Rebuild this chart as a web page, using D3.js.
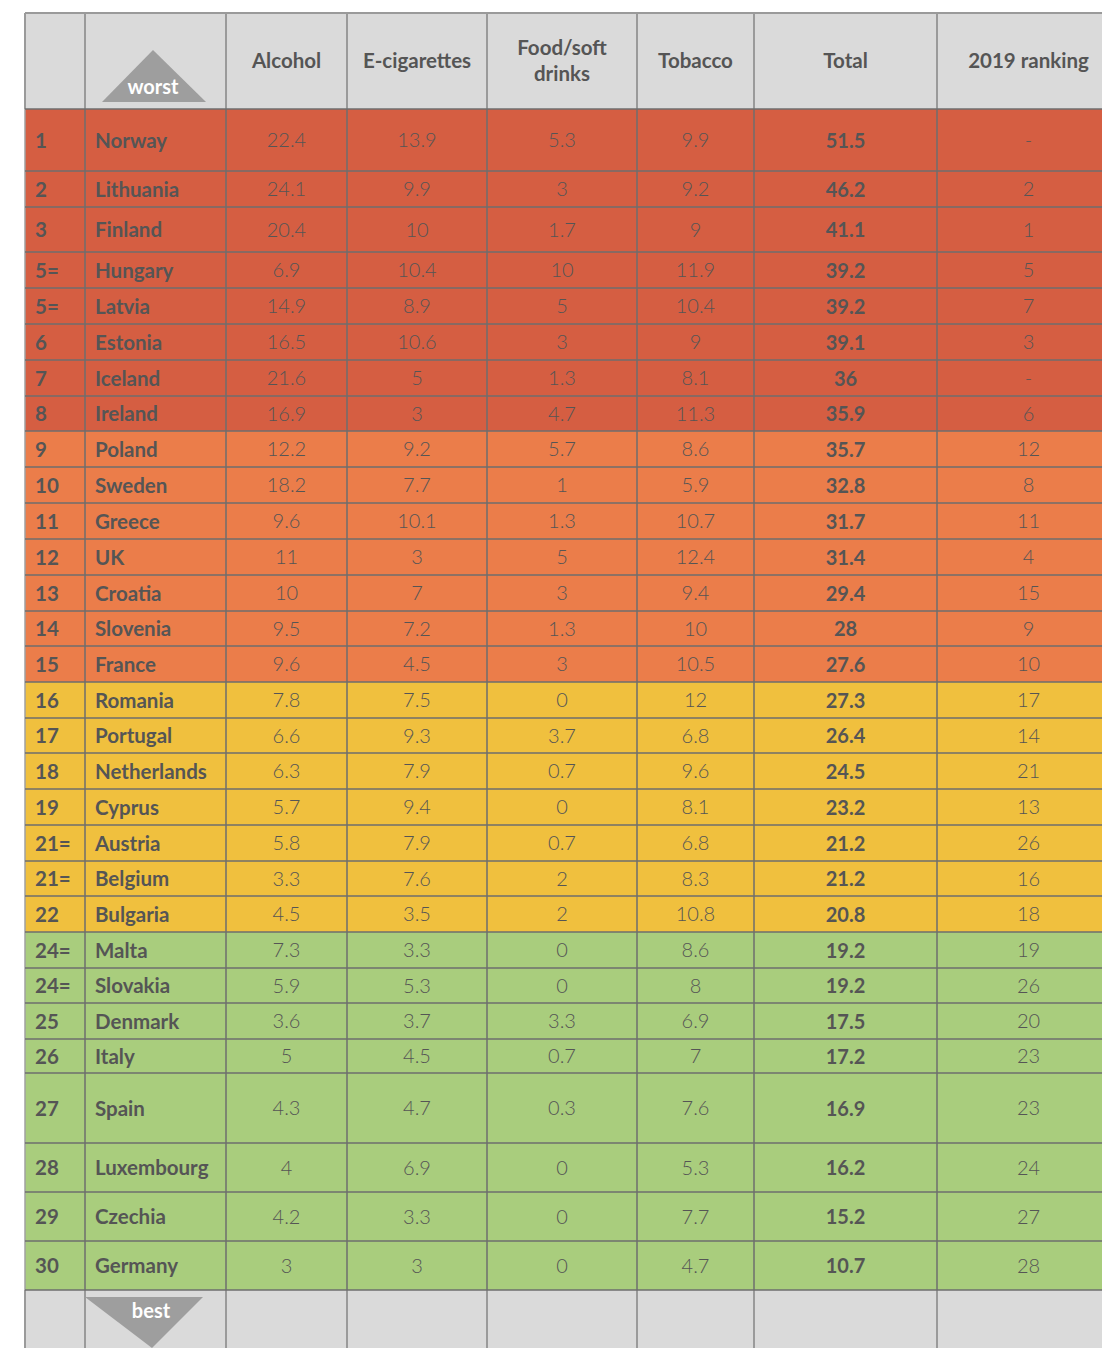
<!DOCTYPE html>
<html>
<head>
<meta charset="utf-8">
<title>Nanny state index</title>
<script src="https://cdnjs.cloudflare.com/ajax/libs/d3/7.8.5/d3.min.js"></script>
<style>
  body { margin: 0; background: #fff; }
  text { font-family: Lato, "Open Sans", sans-serif; fill: #555; }
</style>
</head>
<body>
<script>
const ranks = ["1","2","3","5=","5=","6","7","8","9","10","11","12","13","14","15",
  "16","17","18","19","21=","21=","22","24=","24=","25","26","27","28","29","30"];
const countries = ["Norway","Lithuania","Finland","Hungary","Latvia","Estonia","Iceland","Ireland",
  "Poland","Sweden","Greece","UK","Croatia","Slovenia","France",
  "Romania","Portugal","Netherlands","Cyprus","Austria","Belgium","Bulgaria",
  "Malta","Slovakia","Denmark","Italy","Spain","Luxembourg","Czechia","Germany"];
const alcohol = [22.4,24.1,20.4,6.9,14.9,16.5,21.6,16.9,12.2,18.2,9.6,11,10,9.5,9.6,
  7.8,6.6,6.3,5.7,5.8,3.3,4.5,7.3,5.9,3.6,5,4.3,4,4.2,3];
const ecigs = [13.9,9.9,10,10.4,8.9,10.6,5,3,9.2,7.7,10.1,3,7,7.2,4.5,
  7.5,9.3,7.9,9.4,7.9,7.6,3.5,3.3,5.3,3.7,4.5,4.7,6.9,3.3,3];
const food = [5.3,3,1.7,10,5,3,1.3,4.7,5.7,1,1.3,5,3,1.3,3,
  0,3.7,0.7,0,0.7,2,2,0,0,3.3,0.7,0.3,0,0,0];
const tobacco = [9.9,9.2,9,11.9,10.4,9,8.1,11.3,8.6,5.9,10.7,12.4,9.4,10,10.5,
  12,6.8,9.6,8.1,6.8,8.3,10.8,8.6,8,6.9,7,7.6,5.3,7.7,4.7];
const total = [51.5,46.2,41.1,39.2,39.2,39.1,36,35.9,35.7,32.8,31.7,31.4,29.4,28,27.6,
  27.3,26.4,24.5,23.2,21.2,21.2,20.8,19.2,19.2,17.5,17.2,16.9,16.2,15.2,10.7];
const rank2019 = ["-","2","1","5","7","3","-","6","12","8","11","4","15","9","10",
  "17","14","21","13","26","16","18","19","26","20","23","23","24","27","28"];
const tiers = ["red","red","red","red","red","red","red","red",
  "orange","orange","orange","orange","orange","orange","orange",
  "yellow","yellow","yellow","yellow","yellow","yellow","yellow",
  "green","green","green","green","green","green","green","green"];
const headers = [[""],[""],["Alcohol"],["E-cigarettes"],["Food/soft","drinks"],["Tobacco"],["Total"],["2019 ranking"]];

// --- layout ---
const width = 1102, height = 1348;
const colEdges = [25, 85, 226, 347, 487, 637, 754, 937, 1120];
const headTop = 13, headBottom = 109;
// row heights in px (the table has uneven rows)
const rowH = [62,36,45,36,36,36,36,35,36,36,36,36,36,35,36,36,35,36,36,36,35,36,36,35,36,34,70,49,49,49];
const rowEdges = [headBottom];
rowH.forEach(h => rowEdges.push(rowEdges[rowEdges.length-1] + h));
const footBottom = height;

const color = d3.scaleOrdinal()
  .domain(["red","orange","yellow","green"])
  .range(["#d55e42","#eb7d4a","#f0c03e","#a9cd7d"]);

const svg = d3.select('body').append('svg')
  .attr('width', width)
  .attr('height', height);

const rows = countries.map((c, i) => ({
  i, rank: ranks[i], country: c,
  vals: [alcohol[i], ecigs[i], food[i], tobacco[i], total[i], rank2019[i]],
  tier: tiers[i]
}));

// header + footer backgrounds
svg.append('rect').attr('x', colEdges[0]).attr('y', headTop)
  .attr('width', colEdges[8]-colEdges[0]).attr('height', headBottom-headTop).attr('fill', '#dadada');
const lastEdge = rowEdges[rowEdges.length-1];
svg.append('rect').attr('x', colEdges[0]).attr('y', lastEdge)
  .attr('width', colEdges[8]-colEdges[0]).attr('height', footBottom-lastEdge).attr('fill', '#dadada');

// row backgrounds
svg.append('g').selectAll('rect').data(rows).enter().append('rect')
  .attr('x', colEdges[0])
  .attr('y', d => rowEdges[d.i])
  .attr('width', colEdges[8]-colEdges[0])
  .attr('height', d => rowEdges[d.i+1]-rowEdges[d.i])
  .attr('fill', d => color(d.tier));

// grid lines: light in header/footer, darker in body
const gHead = svg.append('g').attr('stroke', '#9a9a9a').attr('stroke-width', 2);
colEdges.forEach(x => {
  gHead.append('line').attr('x1', x).attr('x2', x).attr('y1', headTop).attr('y2', headBottom);
  gHead.append('line').attr('x1', x).attr('x2', x).attr('y1', lastEdge).attr('y2', footBottom);
});
gHead.append('line').attr('x1', colEdges[0]).attr('x2', colEdges[8]).attr('y1', headTop).attr('y2', headTop);

const gBody = svg.append('g').attr('stroke', '#6e6e6e').attr('stroke-width', 1.5);
colEdges.forEach((x, k) => {
  gBody.append('line').attr('x1', x).attr('x2', x).attr('y1', headBottom).attr('y2', lastEdge)
    .attr('stroke', k === 0 ? '#a0a0a0' : null);
});
rowEdges.forEach(y => {
  gBody.append('line').attr('x1', colEdges[0]).attr('x2', colEdges[8]).attr('y1', y).attr('y2', y);
});

// header labels
headers.forEach((lines, k) => {
  const cx = (colEdges[k] + colEdges[k+1]) / 2;
  const y0 = lines.length === 1 ? 63 : 50;
  lines.forEach((t, j) => {
    if (!t) return;
    svg.append('text').attr('x', cx).attr('y', y0 + j*26)
      .attr('text-anchor', 'middle').attr('dominant-baseline', 'middle')
      .attr('font-size', 20.5).attr('font-weight', 700).text(t);
  });
});

// worst / best markers
svg.append('path').attr('d', d3.line()([[102,102],[153,50],[206,102]]) + 'Z').attr('fill', '#9e9e9e');
svg.append('text').attr('x', 153).attr('y', 89).attr('text-anchor', 'middle')
  .attr('dominant-baseline', 'middle').attr('font-size', 20).attr('font-weight', 700)
  .style('fill', '#fff').text('worst');
svg.append('path').attr('d', d3.line()([[85,1297],[203,1297],[152,1348]]) + 'Z').attr('fill', '#9e9e9e');
svg.append('text').attr('x', 151).attr('y', 1313).attr('text-anchor', 'middle')
  .attr('dominant-baseline', 'middle').attr('font-size', 20).attr('font-weight', 700)
  .style('fill', '#fff').text('best');

// body text
const cells = svg.append('g').selectAll('g').data(rows).enter().append('g')
  .attr('transform', d => `translate(0,${(rowEdges[d.i]+rowEdges[d.i+1])/2 + 2.5})`);

cells.append('text').attr('x', 35).attr('dominant-baseline', 'middle')
  .attr('font-size', 20.5).attr('font-weight', 700).text(d => d.rank);
cells.append('text').attr('x', 95).attr('dominant-baseline', 'middle')
  .attr('font-size', 20.5).attr('font-weight', 700).text(d => d.country);

cells.selectAll('text.v').data(d => d.vals).enter().append('text')
  .attr('class', 'v')
  .attr('x', (v, k) => (colEdges[k+2] + colEdges[k+3]) / 2)
  .attr('text-anchor', 'middle').attr('dominant-baseline', 'middle')
  .attr('font-size', 20)
  .attr('font-weight', (v, k) => k === 4 ? 700 : 300)
  .text(v => v);
</script>
</body>
</html>
